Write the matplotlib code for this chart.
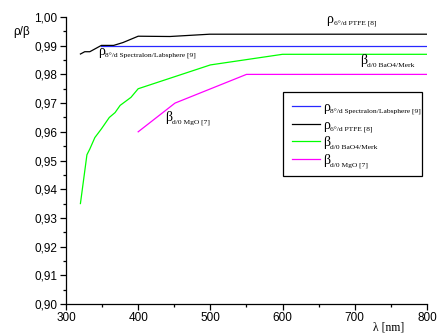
import matplotlib
matplotlib.use("Agg")
import matplotlib.pyplot as plt
from matplotlib.ticker import MultipleLocator, FuncFormatter
from matplotlib.transforms import IdentityTransform

plt.rcParams['font.family'] = ['Liberation Sans', 'DejaVu Sans']

# data
wl_spectralon = [349, 800]
rho_spectralon = [0.990, 0.990]

wl_ptfe = [320, 326, 333, 349, 366, 379, 400, 444, 499, 800]
rho_ptfe = [0.9871, 0.9879, 0.9879, 0.9901, 0.9901, 0.9911, 0.9933, 0.9932, 0.9940, 0.9940]

wl_baso4 = [320, 329, 333, 340, 349, 360, 368, 375, 390, 400, 500, 600, 800]
beta_baso4 = [0.935, 0.952, 0.954, 0.958, 0.961, 0.965, 0.9667, 0.9692, 0.972, 0.975, 0.9833, 0.987, 0.987]

wl_mgo = [400, 451, 550, 800]
beta_mgo = [0.960, 0.970, 0.980, 0.980]

symbols = ['ρ', 'ρ', 'β', 'β']
subs = ['8°/d Spectralon/Labsphere [9]', '6°/d PTFE [8]', 'd/0 BaO4/Merk', 'd/0 MgO [7]']
label_pos = [(344, 0.9868), (661, 0.9979), (707, 0.9836), (437, 0.9638)]

SERIF = 'Liberation Serif'
SYM_SIZE = 10
SUB_SIZE = 5.4

fig = plt.figure(figsize=(4.37, 3.33), dpi=100)
ax = fig.add_axes([0.151, 0.087, 0.826, 0.862])

ax.plot(wl_spectralon, rho_spectralon, color='#2828ff', lw=0.9, label=symbols[0])
ax.plot(wl_ptfe, rho_ptfe, color='black', lw=0.9, label=symbols[1])
ax.plot(wl_baso4, beta_baso4, color='#00ff00', lw=0.9, label=symbols[2])
ax.plot(wl_mgo, beta_mgo, color='#ff00ff', lw=0.9, label=symbols[3])

ax.set_xlim(300, 800)
ax.set_ylim(0.90, 1.00)
ax.xaxis.set_major_locator(MultipleLocator(100))
ax.xaxis.set_minor_locator(MultipleLocator(50))
ax.yaxis.set_major_locator(MultipleLocator(0.01))
ax.yaxis.set_minor_locator(MultipleLocator(0.005))
ax.yaxis.set_major_formatter(FuncFormatter(lambda v, p: f"{v:.2f}".replace('.', ',')))
ax.tick_params(which='major', direction='out', length=4, width=0.9, labelsize=8.5, pad=2)
ax.tick_params(which='minor', direction='out', length=2.5, width=0.9)
for s in ['top', 'right']:
    ax.spines[s].set_visible(False)
for s in ['left', 'bottom']:
    ax.spines[s].set_linewidth(0.9)

# curve labels: big symbol, subscript added later
sym_texts = []
for sym, (x, y) in zip(symbols, label_pos):
    t = ax.text(x, y, sym, fontsize=SYM_SIZE, family=SERIF, va='baseline', ha='left')
    sym_texts.append(t)

leg = ax.legend(loc='upper left', bbox_to_anchor=(0.602, 0.4424, 0.383, 0.2963),
                mode='expand', prop={'family': SERIF, 'size': SYM_SIZE},
                frameon=True, fancybox=False, edgecolor='black', framealpha=1,
                handlelength=2.0, handletextpad=0.2, labelspacing=0.33,
                borderpad=0.65, borderaxespad=0)
leg.get_frame().set_linewidth(0.9)

fig.text(22 / 437, 1 - 32.5 / 333, 'ρ/β', fontsize=8.5, ha='center', va='center')
fig.text(389 / 437, 1 - 328 / 333, 'λ [nm]', fontsize=8.5, ha='center', va='center',
         family=SERIF)

# attach the subscripts next to each symbol
fig.canvas.draw()
renderer = fig.canvas.get_renderer()
for t, sub in zip(sym_texts + list(leg.get_texts()), subs + subs):
    bb = t.get_window_extent(renderer)
    fig.text(bb.x1 + 0.5, bb.y0 + 0.5, sub, fontsize=SUB_SIZE, family=SERIF,
             va='baseline', ha='left', transform=IdentityTransform())

fig.savefig('out.png', dpi=100)
